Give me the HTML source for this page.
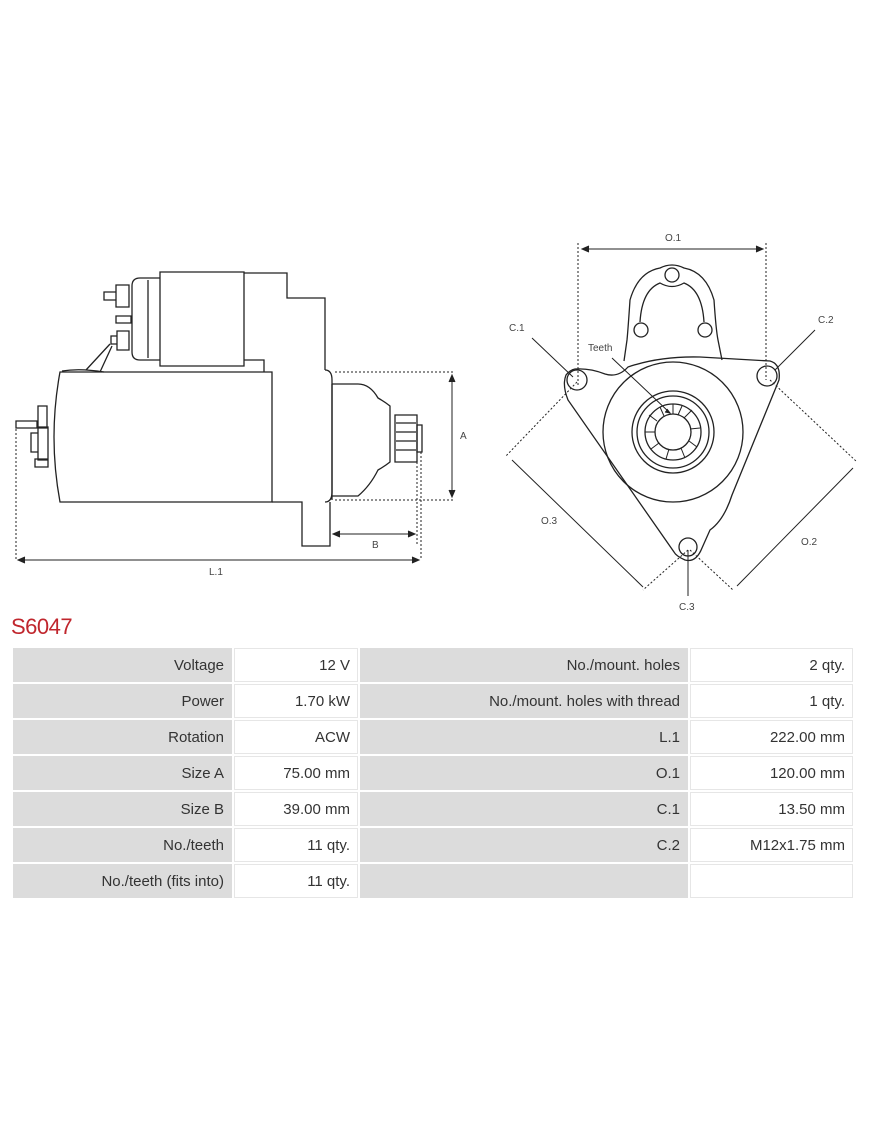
<!DOCTYPE html>
<html><head><meta charset="utf-8"><style>
body{margin:0;background:#fff;width:870px;height:1128px;position:relative;font-family:"Liberation Sans",sans-serif;}
svg{position:absolute;left:0;top:0}
.t{position:absolute;left:11px;top:646px;border-collapse:separate;border-spacing:2px;width:844px;}
.t td{height:34px;font-size:15px;color:#333;text-align:right;padding:0 8px;}
.g{background:#dcdcdc}.w{background:#fff;box-shadow:0 0 0 1px #e6e6e6 inset}
h1{position:absolute;left:11px;top:614px;margin:0;font-size:22px;font-weight:normal;color:#c0262d;letter-spacing:-0.5px}
</style></head><body>
<svg width="870" height="620" viewBox="0 0 870 620" fill="none" stroke="#222" stroke-width="1.3" font-family="Liberation Sans" font-size="10">
<path d="M160 272 H244 V366 H160 Z"/>
<path d="M160 278 H140 Q132 278 132 286 V352 Q132 360 140 360 H160"/>
<path d="M148 280 V358"/>
<path d="M116 285 H129 V307 H116 Z M104 292 H116 V300 H104 Z M116 316 H131 V323 H116 Z M117 331 H129 V350 H117 Z M111 336 H117 V344 H111 Z"/>
<path d="M244 273 H287 V298 H325 V370"/>
<path d="M244 360 H264 V372"/>
<path d="M60 372 H272 V502 H60 Q48 437 60 372 Z"/>
<path d="M62 371 Q80 368 104 372 M86 370 L110 344 M100 372 L112 346"/>
<path d="M38 406 H47 V428 H38 Z M31 433 H38 V452 H31 Z M38 427 H48 V460 H38 Z M16 421 H37 V428 H16 Z M35 459 H48 V467 H35 Z"/>
<path d="M272 502 H302 V546 H330 V502"/>
<path d="M325 370 Q332 370 332 380 V492 Q332 502 325 502"/>
<path d="M332 384 V500 M332 384 H358 Q370 384 378 398 Q385 402 390 406 V462 Q385 466 378 470 Q370 486 358 496 H332"/>
<path d="M395 415 H417 V462 H395 Z M396 423 H416 M396 432 H416 M396 441 H416 M396 450 H416"/>
<path d="M417 425 H422 V452 H417 Z"/>
<g stroke-width="1" stroke-dasharray="2 2"><path d="M335 372 H455 M335 500 H455 M16 425 V560 M417 462 V545 M421 452 V560"/></g>
<g stroke-width="1"><path d="M452 375 V497 M333 534 H415 M18 560 H419"/>
<path d="M449 382 L452 375 L455 382 M449 490 L452 497 L455 490 M340 531 L333 534 L340 537 M408 531 L415 534 L408 537 M25 557 L18 560 L25 563 M412 557 L419 560 L412 563" fill="#222"/></g>
<g fill="#444" stroke="none"><text x="460" y="439">A</text><text x="372" y="548">B</text><text x="209" y="575">L.1</text></g>
<g stroke-width="1" stroke-dasharray="2 2"><path d="M578 243 V385 M766 243 V380 M577 382 L505 457 M770 380 L857 462 M688 550 L643 590 M690 550 L733 590"/></g>
<g stroke-width="1"><path d="M582 249 H763 M512 460 L643 587 M737 586 L853 468"/>
<path d="M589 246 L582 249 L589 252 M756 246 L763 249 L756 252" fill="#222"/></g>
<path d="M624 361 L627 340 Q628 330 630 300 Q638 272 660 268 Q672 262 684 268 Q706 272 714 300 Q716 330 718 340 L722 360"/>
<path d="M640 322 Q642 290 660 283 Q672 290 684 283 Q702 290 704 322"/>
<circle cx="672" cy="275" r="7"/><circle cx="641" cy="330" r="7"/><circle cx="705" cy="330" r="7"/>
<path d="M575 369 Q590 368 605 374 Q618 378 628 367 Q660 356 700 357 L770 361 Q781 364 779 380 L732 495 Q724 520 710 530 L702 548 Q696 563 685 560 Q676 556 674 552 L568 400 Q562 385 566 375 Q570 370 575 369 Z"/>
<circle cx="577" cy="380" r="10"/><circle cx="767" cy="376" r="10"/><circle cx="688" cy="547" r="9"/>
<circle cx="673" cy="432" r="70"/><circle cx="673" cy="432" r="41"/><circle cx="673" cy="432" r="36"/><circle cx="673" cy="432" r="28"/><circle cx="673" cy="432" r="18"/>
<g stroke-width="1">
<path d="M673 414 L673 404 M684 418 L692 410 M690 429 L700 428 M689 441 L697 447 M681 448 L685 458 M669 449 L666 459 M659 443 L651 449 M655 432 L645 432 M657 421 L649 415 M664 416 L660 407 M678 415 L682 406"/>
<path d="M532 338 L573 377 M815 330 L775 370 M688 550 L688 596 M612 358 L670 413"/>
<path d="M667 409 L670 413 L665 412" fill="#222"/></g>
<g fill="#444" stroke="none"><text x="665" y="241">O.1</text><text x="509" y="331">C.1</text><text x="818" y="323">C.2</text><text x="588" y="351">Teeth</text><text x="541" y="524">O.3</text><text x="801" y="545">O.2</text><text x="679" y="610">C.3</text></g>
</svg>
<h1>S6047</h1>
<table class="t">
<tr><td class="g" style="width:203px">Voltage</td><td class="w" style="width:108px">12 V</td><td class="g" style="width:312px">No./mount. holes</td><td class="w">2 qty.</td></tr>
<tr><td class="g">Power</td><td class="w">1.70 kW</td><td class="g">No./mount. holes with thread</td><td class="w">1 qty.</td></tr>
<tr><td class="g">Rotation</td><td class="w">ACW</td><td class="g">L.1</td><td class="w">222.00 mm</td></tr>
<tr><td class="g">Size A</td><td class="w">75.00 mm</td><td class="g">O.1</td><td class="w">120.00 mm</td></tr>
<tr><td class="g">Size B</td><td class="w">39.00 mm</td><td class="g">C.1</td><td class="w">13.50 mm</td></tr>
<tr><td class="g">No./teeth</td><td class="w">11 qty.</td><td class="g">C.2</td><td class="w">M12x1.75 mm</td></tr>
<tr><td class="g">No./teeth (fits into)</td><td class="w">11 qty.</td><td class="g"></td><td class="w"></td></tr>
</table>
</body></html>
